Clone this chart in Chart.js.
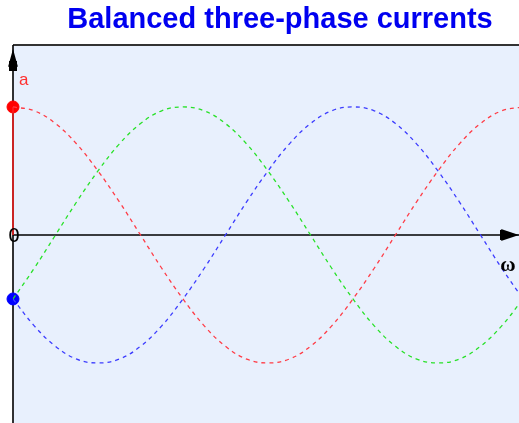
<!DOCTYPE html>
<html>
<head>
<meta charset="utf-8">
<script src="https://cdn.jsdelivr.net/npm/chart.js@4"></script>
<style>
  html, body { margin: 0; padding: 0; background: #ffffff; }
  #wrap { width: 519px; height: 423px; }
</style>
</head>
<body>
<div id="wrap"><canvas id="phaseChart" width="519" height="423"></canvas></div>
<script>
// angle in degrees (omega t)
var angles = [0, 15, 30, 45, 60, 75, 90, 105, 120, 135, 150, 165, 180,
              195, 210, 225, 240, 255, 270, 285, 300, 315, 330, 345, 360];
// phase currents (1 = peak)
var phaseA = [1, 0.97, 0.87, 0.71, 0.5, 0.26, 0, -0.26, -0.5, -0.71, -0.87, -0.97, -1,
              -0.97, -0.87, -0.71, -0.5, -0.26, 0, 0.26, 0.5, 0.71, 0.87, 0.97, 1];
var phaseB = [-0.5, -0.26, 0, 0.26, 0.5, 0.71, 0.87, 0.97, 1, 0.97, 0.87, 0.71, 0.5,
              0.26, 0, -0.26, -0.5, -0.71, -0.87, -0.97, -1, -0.97, -0.87, -0.71, -0.5];
var phaseC = [-0.5, -0.71, -0.87, -0.97, -1, -0.97, -0.87, -0.71, -0.5, -0.26, 0, 0.26, 0.5,
              0.71, 0.87, 0.97, 1, 0.97, 0.87, 0.71, 0.5, 0.26, 0, -0.26, -0.5];
// the red phasor at t = 0 and the two dots on the vertical axis
var phasorA = [0, 1];
var dotA = 1;
var dotC = -0.5;

var titleText = 'Balanced three-phase currents';

function toPoints(xs, ys) {
    var pts = [];
    for (var i = 0; i < xs.length; i++) {
        pts.push({x: xs[i], y: ys[i]});
    }
    return pts;
}

function curve(values, color) {
    return {
        data: toPoints(angles, values),
        borderColor: color,
        borderWidth: 1.3,
        borderDash: [4, 4],
        pointRadius: 0,
        tension: 0.4,
        fill: false
    };
}

var decorPlugin = {
    id: 'decor',
    beforeDatasetsDraw: function(chart) {
        var ctx = chart.ctx;
        var a = chart.chartArea;
        var xs = chart.scales.x, ys = chart.scales.y;
        var x0 = xs.getPixelForValue(0);
        var y0 = ys.getPixelForValue(0);
        ctx.save();
        // plot background
        ctx.fillStyle = '#e8f0fd';
        ctx.fillRect(a.left, a.top, a.right - a.left, a.bottom - a.top);
        // top border
        ctx.strokeStyle = '#333333';
        ctx.lineWidth = 2;
        ctx.beginPath();
        ctx.moveTo(a.left, a.top);
        ctx.lineTo(a.right, a.top);
        ctx.stroke();
        // axes
        ctx.strokeStyle = '#000000';
        ctx.lineWidth = 1.6;
        ctx.beginPath();
        ctx.moveTo(a.left, y0);
        ctx.lineTo(a.right, y0);
        ctx.moveTo(x0, a.top);
        ctx.lineTo(x0, a.bottom);
        ctx.stroke();
        // arrow heads
        ctx.fillStyle = '#000000';
        ctx.beginPath();
        ctx.moveTo(a.right, y0);
        ctx.lineTo(a.right - 18, y0 - 6);
        ctx.lineTo(a.right - 15, y0);
        ctx.lineTo(a.right - 18, y0 + 6);
        ctx.closePath();
        ctx.fill();
        ctx.fillRect(a.right - 19, y0 - 5, 4, 10);
        ctx.beginPath();
        ctx.moveTo(x0, a.top + 4);
        ctx.lineTo(x0 - 5, a.top + 22);
        ctx.lineTo(x0, a.top + 19);
        ctx.lineTo(x0 + 5, a.top + 22);
        ctx.closePath();
        ctx.fill();
        ctx.fillRect(x0 - 4, a.top + 16, 8, 10);
        ctx.restore();
    },
    afterDraw: function(chart) {
        var ctx = chart.ctx;
        var xs = chart.scales.x, ys = chart.scales.y;
        var x0 = xs.getPixelForValue(0);
        var y0 = ys.getPixelForValue(0);
        ctx.save();
        ctx.textAlign = 'center';
        ctx.textBaseline = 'alphabetic';
        ctx.fillStyle = '#0000f0';
        ctx.font = 'bold 29px "Liberation Sans", Arial, sans-serif';
        ctx.fillText(titleText, 280, 28);
        ctx.fillStyle = '#ff3030';
        ctx.font = '17px "Liberation Sans", Arial, sans-serif';
        ctx.textAlign = 'left';
        ctx.fillText('a', x0 + 6, 85);
        ctx.fillStyle = '#000000';
        ctx.font = '19px "DejaVu Sans", sans-serif';
        ctx.textAlign = 'center';
        ctx.fillText('0', x0 + 1, y0 + 7);
        ctx.font = 'bold 21px "Liberation Serif", serif';
        ctx.fillText('\u03c9', chart.chartArea.right - 11, y0 + 36);
        ctx.restore();
    }
};

new Chart(document.getElementById('phaseChart').getContext('2d'), {
    type: 'line',
    data: {
        datasets: [
            curve(phaseA, 'rgb(255,60,70)'),
            curve(phaseB, 'rgb(40,225,40)'),
            curve(phaseC, 'rgb(60,60,255)'),
            {
                data: toPoints([0, 0], phasorA),
                borderColor: '#ff2020',
                borderWidth: 1.5,
                pointRadius: 0,
                clip: false
            },
            {
                data: [{x: 0, y: dotA}],
                backgroundColor: '#ff0000',
                borderColor: '#ff0000',
                pointRadius: 6,
                showLine: false,
                clip: false
            },
            {
                data: [{x: 0, y: dotC}],
                backgroundColor: '#0000ff',
                borderColor: '#0000ff',
                pointRadius: 6,
                showLine: false,
                clip: false
            }
        ]
    },
    options: {
        responsive: false,
        animation: false,
        devicePixelRatio: 1,
        layout: { autoPadding: false, padding: { left: 13, top: 45, right: 0, bottom: 0 } },
        plugins: {
            legend: { display: false },
            tooltip: { enabled: false },
            title: { display: false }
        },
        scales: {
            x: { type: 'linear', min: 0, max: 357.2, display: false },
            y: { type: 'linear', min: -1.469, max: 1.484, display: false }
        }
    },
    plugins: [decorPlugin]
});
</script>
</body>
</html>
